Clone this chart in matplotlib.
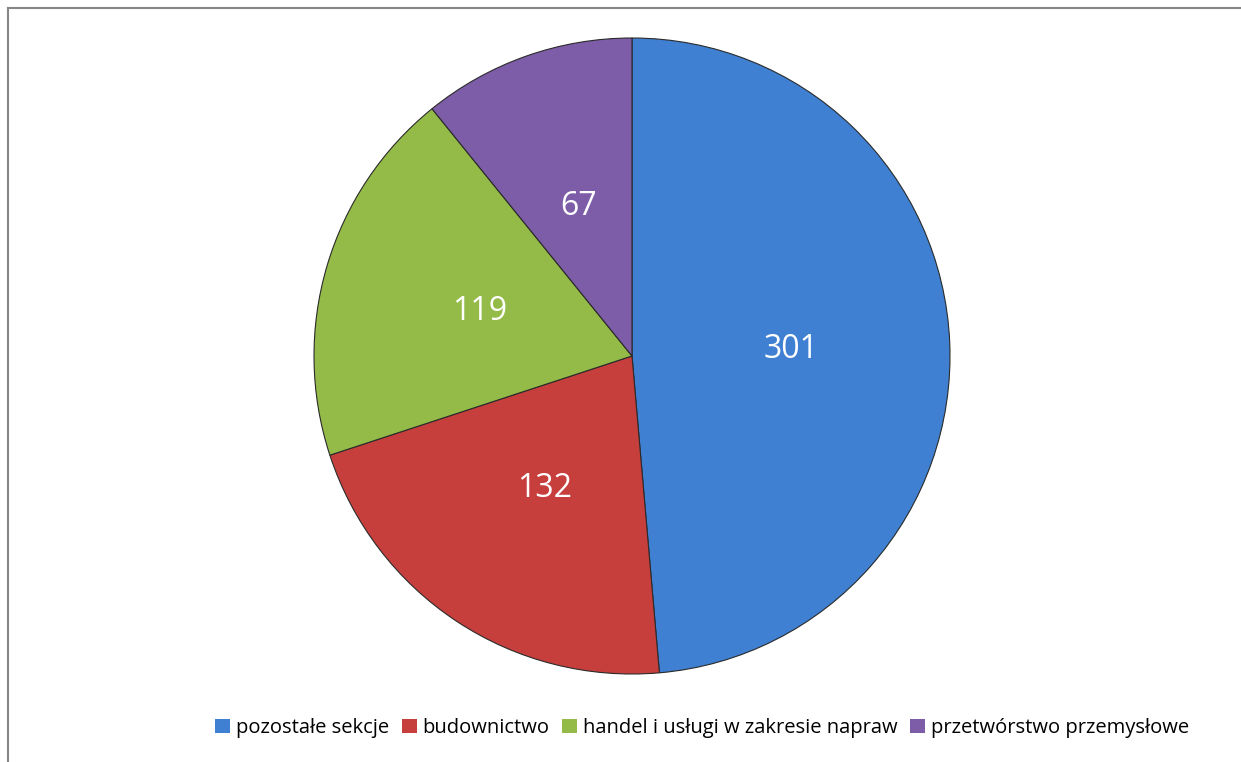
import matplotlib.pyplot as plt
from matplotlib.lines import Line2D
from matplotlib.patches import Patch

categories = ['pozostałe sekcje', 'budownictwo', 'handel i usługi w zakresie napraw', 'przetwórstwo przemysłowe']
values = [301, 132, 119, 67]
colors = ['#3F80D2', '#C63F3C', '#94BA48', '#7E5DA8']

plt.rcParams['font.family'] = ['Open Sans', 'DejaVu Sans']

W, H = 1241, 762
fig = plt.figure(figsize=(W / 100, H / 100), dpi=100)

# frame of the chart area (only top and left edge visible)
fig.add_artist(Line2D([8 / W, 8 / W], [0, 1 - 8 / H], color='#868686', lw=1.5))
fig.add_artist(Line2D([8 / W, 1], [1 - 8 / H, 1 - 8 / H], color='#868686', lw=1.5))

cx, cy, r = 632, 356, 318
ax = fig.add_axes([(cx - r) / W, (H - cy - r) / H, 2 * r / W, 2 * r / H])
wedges, texts, autotexts = ax.pie(
    values, colors=colors, startangle=90, counterclock=False,
    autopct=lambda p: '{:.0f}'.format(p * sum(values) / 100),
    pctdistance=0.5, radius=1,
    wedgeprops=dict(edgecolor='#2a2a2a', linewidth=0.8),
    textprops=dict(color='white', fontsize=23))
ax.set_xlim(-1, 1)
ax.set_ylim(-1, 1)
ax.set_aspect('equal')
ax.axis('off')

handles = [Patch(facecolor=c, edgecolor='none') for c in colors]
fig.legend(handles, categories, loc='center', bbox_to_anchor=(702 / W, 1 - 728 / H),
           ncol=4, frameon=False, fontsize=14.5, handlelength=0.75, handleheight=0.75,
           handletextpad=0.3, columnspacing=0.6)

fig.savefig('out.png', dpi=100)
